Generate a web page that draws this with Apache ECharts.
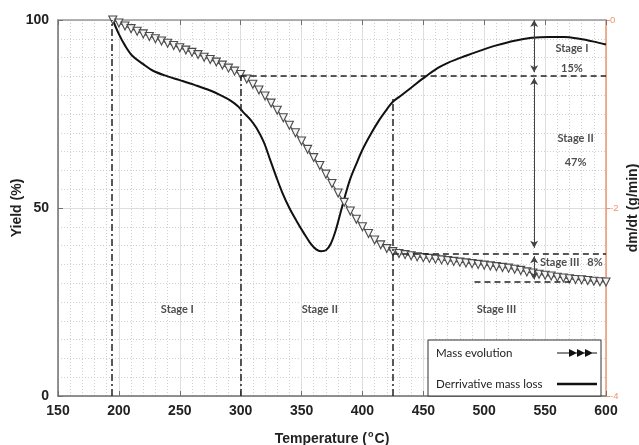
<!DOCTYPE html>
<html><head><meta charset="utf-8">
<script src="https://cdn.jsdelivr.net/npm/echarts@6/dist/echarts.min.js"></script>
<style>html,body{margin:0;padding:0;background:#fff}#c{width:639px;height:445px}</style>
</head><body><div id="c"></div>
<script>
// Mass evolution (Yield %) vs temperature
const massT = [195,200,205,210,215,220,225,230,235,240,245,250,255,260,265,270,275,280,285,290,295,300,305,310,315,320,325,330,335,340,345,350,355,360,365,370,375,380,385,390,395,400,405,410,415,420,425,430,435,440,445,450,455,460,465,470,475,480,485,490,495,500,505,510,515,520,525,530,535,540,545,550,555,560,565,570,575,580,585,590,595,600];
const massY = [100,99.2,98.4,97.7,97.0,96.3,95.6,95.0,94.4,93.8,93.2,92.6,92.0,91.4,90.8,90.1,89.5,88.8,88.0,87.2,86.4,85.5,84.3,82.9,81.4,79.8,77.9,76.0,74.0,72.0,70.0,67.8,65.6,63.4,61.3,59.0,56.5,54.0,51.5,49.2,47.0,45.0,43.2,41.5,40.2,39.2,38.4,37.9,37.6,37.3,37.0,36.8,36.6,36.4,36.2,36.0,35.8,35.6,35.4,35.2,35.0,34.8,34.6,34.4,34.2,34.0,33.7,33.4,33.0,32.7,32.4,32.1,31.9,31.6,31.4,31.2,31.0,30.9,30.7,30.5,30.4,30.3];
// Derivative mass loss (g/min)
const derivT = [195,200,205,211,220,228,240,250,262,275,285,292,298,302,308,313,319,324,329,334,340,346,352,357,362,366,370,374,378,382,386,390,395,400,407,414,420,425,432,440,452,462,471,485,498,510,525,539,553,566,578,590,600];
const derivV = [0,-0.15,-0.27,-0.38,-0.47,-0.54,-0.6,-0.64,-0.69,-0.75,-0.81,-0.86,-0.92,-0.98,-1.06,-1.15,-1.3,-1.48,-1.66,-1.83,-2.0,-2.14,-2.27,-2.37,-2.44,-2.46,-2.45,-2.38,-2.24,-2.05,-1.86,-1.69,-1.53,-1.38,-1.21,-1.06,-0.95,-0.87,-0.8,-0.72,-0.6,-0.51,-0.45,-0.38,-0.32,-0.27,-0.22,-0.19,-0.18,-0.18,-0.2,-0.23,-0.26];
// Stage boundaries (temperature, top yield)
const boundT = [194, 300, 425];
const boundTop = [100, 85.3, 79];
// Stage levels (yield, from T, to T)
const levelY = [85.3, 37.8, 30.3];
const levelFrom = [300, 425, 492];
const levelTo = [600, 600, 574];
// Double arrows at T
const arrowT = 541;
const arrowFrom = [100, 84.6, 37.2];
const arrowTo = [86.1, 39.4, 31.0];
// Annotation texts
const annoT = [572, 572, 575, 575, 562, 591, 248, 365, 510];
const annoY = [92.3, 87.2, 68.4, 62.0, 35.6, 35.6, 23.1, 23.1, 23.1];
const annoText = ['Stage I','15%','Stage II','47%','Stage III','8%','Stage I','Stage II','Stage III'];
const xTicks = [150, 600, 50];
const yTicks = [0, 100, 50];
const y2Ticks = [-4, 0, 2];

const ORANGE = '#f2946c';
const AX = '#707070';
const FONT = 'Liberation Sans, Arial, sans-serif';
const CAL = 'Lato, Carlito, sans-serif';

const chart = echarts.init(document.getElementById('c'), null, {renderer: 'canvas'});

const mlData = [];
boundT.forEach((t, i) => mlData.push([{coord: [t, 0], symbol: 'none', lineStyle: {type: [7,3,2,3], width: 1.5, color: '#222'}}, {coord: [t, boundTop[i]], symbol: 'none'}]));
levelY.forEach((y, i) => mlData.push([{coord: [levelFrom[i], y], symbol: 'none', lineStyle: {type: [6,4], width: 1.5, color: '#222'}}, {coord: [levelTo[i], y], symbol: 'none'}]));
arrowFrom.forEach((y, i) => mlData.push([{coord: [arrowT, y], symbol: 'arrow', symbolSize: [6,7], lineStyle: {type: 'solid', width: 1, color: '#444'}}, {coord: [arrowT, arrowTo[i]], symbol: 'arrow', symbolSize: [6,7]}]));

const gridLine = {show: true, lineStyle: {color: '#dedede', width: 1}};
const minorGrid = {show: true, lineStyle: {color: '#cfcfcf', width: 1, type: [1,2]}};

chart.setOption({
  animation: false,
  backgroundColor: '#fff',
  grid: {left: 58, right: 33, top: 20, bottom: 49, containLabel: false, outerBoundsMode: 'none'},
  legend: {
    orient: 'vertical', left: 428, top: 340, align: 'right',
    padding: [7, 4, 6, 8], itemGap: 19, itemWidth: 40, itemHeight: 8, itemTextGap: 4,
    borderColor: '#333', borderWidth: 1, backgroundColor: '#fff',
    formatter: n => '{a|' + n + '}',
    textStyle: {rich: {a: {width: 116, align: 'left', fontFamily: CAL, fontSize: 11.5, color: '#222'}}},
    data: [
      {name: 'Mass evolution', icon: 'path://M0,3.5H40V4.5H0Z M12,0L20,4L12,8Z M20,0L28,4L20,8Z M28,0L36,4L28,8Z', itemStyle: {color: '#111', borderWidth: 0}},
      {name: 'Derrivative mass loss', icon: 'path://M0,0H40V2.5H0Z', itemStyle: {color: '#111'}}
    ]
  },
  xAxis: [
    {type: 'value', min: xTicks[0], max: xTicks[1], interval: xTicks[2], position: 'bottom',
     name: '{t|Temperature (}{s|o}{t|C)}', nameLocation: 'middle', nameGap: 34, nameMoveOverlap: false,
     nameTextStyle: {rich: {t: {fontFamily: FONT, fontWeight: 'bold', fontSize: 14, color: '#222', lineHeight: 18}, s: {fontFamily: FONT, fontWeight: 'bold', fontSize: 9, color: '#222', verticalAlign: 'top', lineHeight: 12, padding: [0,1,6,1]}}},
     axisLine: {lineStyle: {color: AX, width: 1.5}},
     axisTick: {inside: true, length: 5, lineStyle: {color: AX}},
     axisLabel: {fontFamily: FONT, fontWeight: 'bold', fontSize: 14, color: '#222', margin: 8},
     splitLine: gridLine,
     minorTick: {show: false, splitNumber: 5},
     minorSplitLine: minorGrid},
    {type: 'value', min: xTicks[0], max: xTicks[1], interval: xTicks[2], position: 'top',
     axisLine: {lineStyle: {color: '#999', width: 1.5}},
     axisTick: {inside: true, length: 5, lineStyle: {color: AX}},
     axisLabel: {show: false}, splitLine: {show: false}}
  ],
  yAxis: [
    {type: 'value', min: yTicks[0], max: yTicks[1], interval: yTicks[2], position: 'left',
     name: 'Yield (%)', nameLocation: 'middle', nameGap: 34, nameMoveOverlap: false,
     nameTextStyle: {fontFamily: FONT, fontWeight: 'bold', fontSize: 14, color: '#222'},
     axisLine: {show: true, lineStyle: {color: AX, width: 1.5}},
     axisTick: {show: true, inside: true, length: 5, lineStyle: {color: AX}},
     axisLabel: {fontFamily: FONT, fontWeight: 'bold', fontSize: 14, color: '#222', margin: 9},
     splitLine: gridLine,
     minorTick: {show: false, splitNumber: 10},
     minorSplitLine: minorGrid},
    {type: 'value', min: y2Ticks[0], max: y2Ticks[1], interval: y2Ticks[2], position: 'right',
     name: 'dm/dt (g/min)', nameLocation: 'middle', nameGap: 20, nameRotate: 90, nameMoveOverlap: false,
     nameTextStyle: {fontFamily: FONT, fontWeight: 'bold', fontSize: 14, color: '#222'},
     axisLine: {show: true, lineStyle: {color: ORANGE, width: 1.5}},
     axisTick: {show: true, inside: false, length: 4, lineStyle: {color: ORANGE}},
     axisLabel: {fontFamily: FONT, fontSize: 9.5, color: ORANGE, margin: 4, hideOverlap: false},
     splitLine: {show: false}}
  ],
  series: [
    {name: 'Derrivative mass loss', type: 'line', xAxisIndex: 0, yAxisIndex: 1, smooth: 0.35, symbol: 'none',
     data: derivT.map((t, i) => [t, derivV[i]]),
     lineStyle: {color: '#111', width: 2}, itemStyle: {color: '#111'}, z: 3},
    {name: 'Mass evolution', type: 'line', xAxisIndex: 0, yAxisIndex: 0, symbol: 'triangle', symbolRotate: 180, symbolSize: 8,
     showAllSymbol: true,
     data: massT.map((t, i) => [t, massY[i]]),
     lineStyle: {color: '#555', width: 1.2}, itemStyle: {color: '#f4f4f4', borderColor: '#4a4a4a', borderWidth: 1.1}, z: 4},
    {name: 'annotations', type: 'line', xAxisIndex: 0, yAxisIndex: 0, data: [], symbol: 'none',
     markLine: {silent: true, animation: false, label: {show: false}, data: mlData}, z: 2},
    {name: 'texts', type: 'scatter', xAxisIndex: 0, yAxisIndex: 0, symbolSize: 0, silent: true,
     data: annoT.map((t, i) => [t, annoY[i], annoText[i]]),
     label: {show: true, position: 'inside', formatter: p => p.data[2], fontFamily: CAL, fontWeight: 'bold', fontSize: 11, color: '#222'}, z: 5}
  ]
});
</script></body></html>
